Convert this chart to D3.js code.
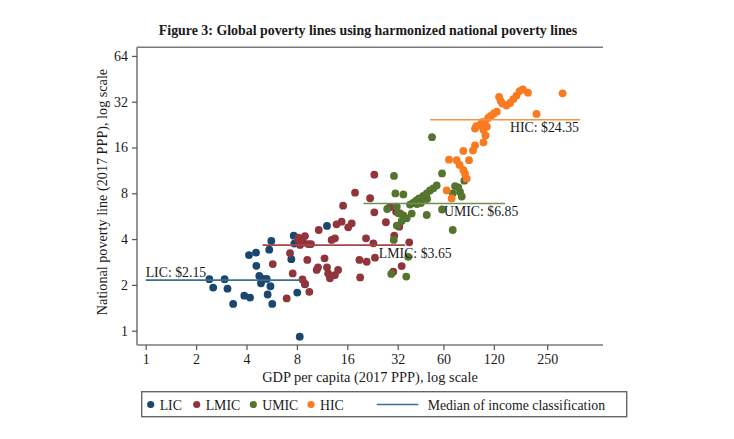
<!DOCTYPE html>
<html>
<head>
<meta charset="utf-8">
<script src="https://cdn.jsdelivr.net/npm/d3@7"></script>
<style>
  html, body { margin: 0; padding: 0; background: #fff; }
  svg { display: block; }
  text { font-family: "Liberation Serif", "DejaVu Serif", serif; fill: #1a1a1a; }
</style>
</head>
<body>
<div id="chart"></div>
<script>
// ---------------- DATA ----------------
const groups = ["LIC", "LMIC", "UMIC", "HIC"];

const licGdp = [2.40,2.53,2.96,3.08,3.33,3.88,4.20,4.14,4.56,4.58,4.77,5.28,4.88,5.56,5.35,5.70,5.63,5.47,7.41,7.66,7.72,8.04,8.94,8.32,12.1,5.00];
const licPl  = [2.18,1.92,2.18,1.89,1.50,1.70,1.65,3.14,3.26,2.67,2.29,2.19,2.05,1.96,1.73,1.50,3.89,3.41,2.95,4.21,3.74,1.78,2.02,0.913,4.88,2.19];

const lmicGdp = [5.74,6.95,7.28,7.55,8.16,8.94,8.35,8.74,9.36,9.71,8.64,8.94,9.49,9.23,10.8,11.7,10.5,10.7,12.1,12.3,12.6,13.5,14.1,12.9,13.5,14.8,13.8,17.0,16.2,15.1,17.8,21.9,23.2,23.2,20.7,22.9,18.9,20.9,23.4,19.1,27.2,28.8,31.3,32.7,30.5,37.5,30.1,33.8,8.16,33.0];
const lmicPl  = [2.74,1.63,3.23,2.38,4.09,4.19,3.66,3.79,3.71,3.71,2.17,2.03,1.80,2.92,4.59,2.99,2.51,2.61,2.61,2.38,2.21,2.32,2.51,3.95,4.05,5.21,5.00,5.08,4.78,6.63,8.07,7.42,10.6,6.00,4.05,3.75,2.92,2.84,3.02,2.24,5.16,6.50,6.06,4.83,4.21,3.81,2.44,2.66,3.95,5.91];

const umicGdp = [51.3,30.4,58.9,80.0,54.7,52.2,49.9,47.7,45.5,42.9,41.2,39.5,37.9,31.0,34.6,70.4,73.6,75.4,68.2,77.2,27.7,31.6,32.3,34.6,36.2,33.8,31.6,38.8,47.7,58.9,68.2,30.3,37.0,29.3,36.0,44.1,47.9,41.7];
const umicPl  = [18.7,10.4,10.8,9.68,9.00,8.63,8.35,8.00,7.68,7.40,7.17,6.91,6.75,7.98,7.86,8.93,8.74,8.16,8.00,7.62,6.31,6.53,5.91,5.72,5.48,5.26,4.91,5.89,5.76,6.26,4.59,3.95,3.06,2.36,2.27,6.91,7.34,6.80];

const hicGdp = [309,216,192,179,171,164,157,150,143,135,132,129,125,120,115,111,106,102,99.3,94.3,92.7,109,104,107,104,92.7,90.1,78.9,85.3,72.0,64.8,74.9,78.9,80.7,82.7,62.8,67.2];
const hicPl  = [36.3,26.6,36.7,38.5,37.6,35.1,33.3,31.4,30.2,31.1,32.3,34.4,27.5,26.8,25.8,25.0,23.6,23.5,22.5,22.1,21.3,21.9,20.9,19.2,17.3,16.5,15.3,15.2,13.2,13.2,13.3,12.3,11.4,10.8,10.0,8.35,7.40];

// Median poverty line of each income group and the GDP range of its line
const medians     = [2.15, 3.65, 6.85, 24.35];
const medianFrom  = [1, 5.0, 20, 50];
const medianTo    = [8.35, 35.4, 140, 393];
const medianLabels = ["LIC: $2.15", "LMIC: $3.65", "UMIC: $6.85", "HIC: $24.35"];
const labelAtGdp  = [1, 24.7, 60.5, 150];

const xTicks = [1, 2, 4, 8, 16, 32, 60, 120, 250];
const yTicks = [1, 2, 4, 8, 16, 32, 64];

// ---------------- STYLE ----------------
const W = 734, H = 439;
const dotColors  = ["#1a476f", "#90353b", "#55752f", "#fa7a20"];
const lineColors = ["#3d6d8c", "#a8454b", "#6f8f55", "#f7943f"];
const frame = { left: 137, right: 603, top: 47.3, bottom: 345 };
const fs = "14px";

const svg = d3.select("#chart").append("svg")
  .attr("width", W).attr("height", H);

const x = d3.scaleLog().base(2).domain([1, 256]).range([145.7, 548.9]);
const y = d3.scaleLog().base(2).domain([1, 64]).range([330.7, 55.9]);

// Title
svg.append("text")
  .attr("x", 368).attr("y", 35)
  .attr("text-anchor", "middle")
  .style("font-weight", "bold").style("font-size", "13.9px")
  .text("Figure 3: Global poverty lines using harmonized national poverty lines");

// Frame lines (left axis, top, bottom)
const frameColor = "#7a7a7a";
svg.append("line").attr("x1", frame.left).attr("x2", frame.right)
  .attr("y1", frame.top).attr("y2", frame.top)
  .attr("stroke", frameColor).attr("stroke-width", 1.6);
svg.append("line").attr("x1", frame.left).attr("x2", frame.right)
  .attr("y1", frame.bottom).attr("y2", frame.bottom)
  .attr("stroke", frameColor).attr("stroke-width", 1.6);
svg.append("line").attr("x1", frame.left).attr("x2", frame.left)
  .attr("y1", frame.top).attr("y2", frame.bottom)
  .attr("stroke", frameColor).attr("stroke-width", 1.6);

// Axes
const yAxis = d3.axisLeft(y).tickValues(yTicks).tickFormat(d3.format("d"))
  .tickSize(5).tickPadding(4);
const gy = svg.append("g").attr("transform", `translate(${frame.left},0)`).call(yAxis);
gy.select(".domain").remove();
gy.selectAll(".tick line").attr("stroke", "#555").attr("stroke-width", 1.2);
gy.selectAll(".tick text").style("font-size", fs).style("font-family", "Liberation Serif").attr("fill", "#1a1a1a");

const xAxis = d3.axisBottom(x).tickValues(xTicks).tickFormat(d3.format("d"))
  .tickSize(5).tickPadding(4);
const gx = svg.append("g").attr("transform", `translate(0,${frame.bottom})`).call(xAxis);
gx.select(".domain").remove();
gx.selectAll(".tick line").attr("stroke", "#555").attr("stroke-width", 1.2);
gx.selectAll(".tick text").style("font-size", fs).style("font-family", "Liberation Serif").attr("fill", "#1a1a1a");

// Axis titles
svg.append("text")
  .attr("x", 370).attr("y", 382)
  .attr("text-anchor", "middle").style("font-size", "14.4px")
  .text("GDP per capita (2017 PPP), log scale");
svg.append("text")
  .attr("transform", "translate(107,192) rotate(-90)")
  .attr("text-anchor", "middle").style("font-size", "14.2px")
  .text("National poverty line (2017 PPP), log scale");

// Scatter points
const series = [
  { gdp: licGdp, pl: licPl },
  { gdp: lmicGdp, pl: lmicPl },
  { gdp: umicGdp, pl: umicPl },
  { gdp: hicGdp, pl: hicPl }
];
series.forEach((s, i) => {
  const pts = s.gdp.map((g, j) => ({ g, p: s.pl[j] }));
  svg.append("g").selectAll("circle").data(pts).join("circle")
    .attr("cx", d => x(d.g)).attr("cy", d => y(d.p))
    .attr("r", 3.9).attr("fill", dotColors[i]);
});

// Median lines and labels
medians.forEach((m, i) => {
  svg.append("line")
    .attr("x1", x(medianFrom[i])).attr("x2", x(medianTo[i]))
    .attr("y1", y(m)).attr("y2", y(m))
    .attr("stroke", lineColors[i]).attr("stroke-width", 1.6);
  svg.append("text")
    .attr("x", x(labelAtGdp[i]))
    .attr("y", i === 0 ? y(m) - 3 : y(m) + 12.5)
    .style("font-size", "13.8px")
    .text(medianLabels[i]);
});

// Legend
const lg = svg.append("g");
lg.append("rect").attr("x", 141.7).attr("y", 391.7).attr("width", 485).attr("height", 25)
  .attr("fill", "#fff").attr("stroke", "#666").attr("stroke-width", 1.4);
const legendMarkX = [150.7, 196.7, 253.3, 311];
groups.forEach((gname, i) => {
  lg.append("circle").attr("cx", legendMarkX[i]).attr("cy", 404.5).attr("r", 3.6)
    .attr("fill", dotColors[i]);
  lg.append("text").attr("x", legendMarkX[i] + 9).attr("y", 409.5)
    .style("font-size", "13.8px").text(gname);
});
lg.append("line").attr("x1", 376.7).attr("x2", 418.3).attr("y1", 404.5).attr("y2", 404.5)
  .attr("stroke", lineColors[0]).attr("stroke-width", 1.6);
lg.append("text").attr("x", 427.7).attr("y", 409.5)
  .style("font-size", "13.8px").text("Median of income classification");
</script>
</body>
</html>
